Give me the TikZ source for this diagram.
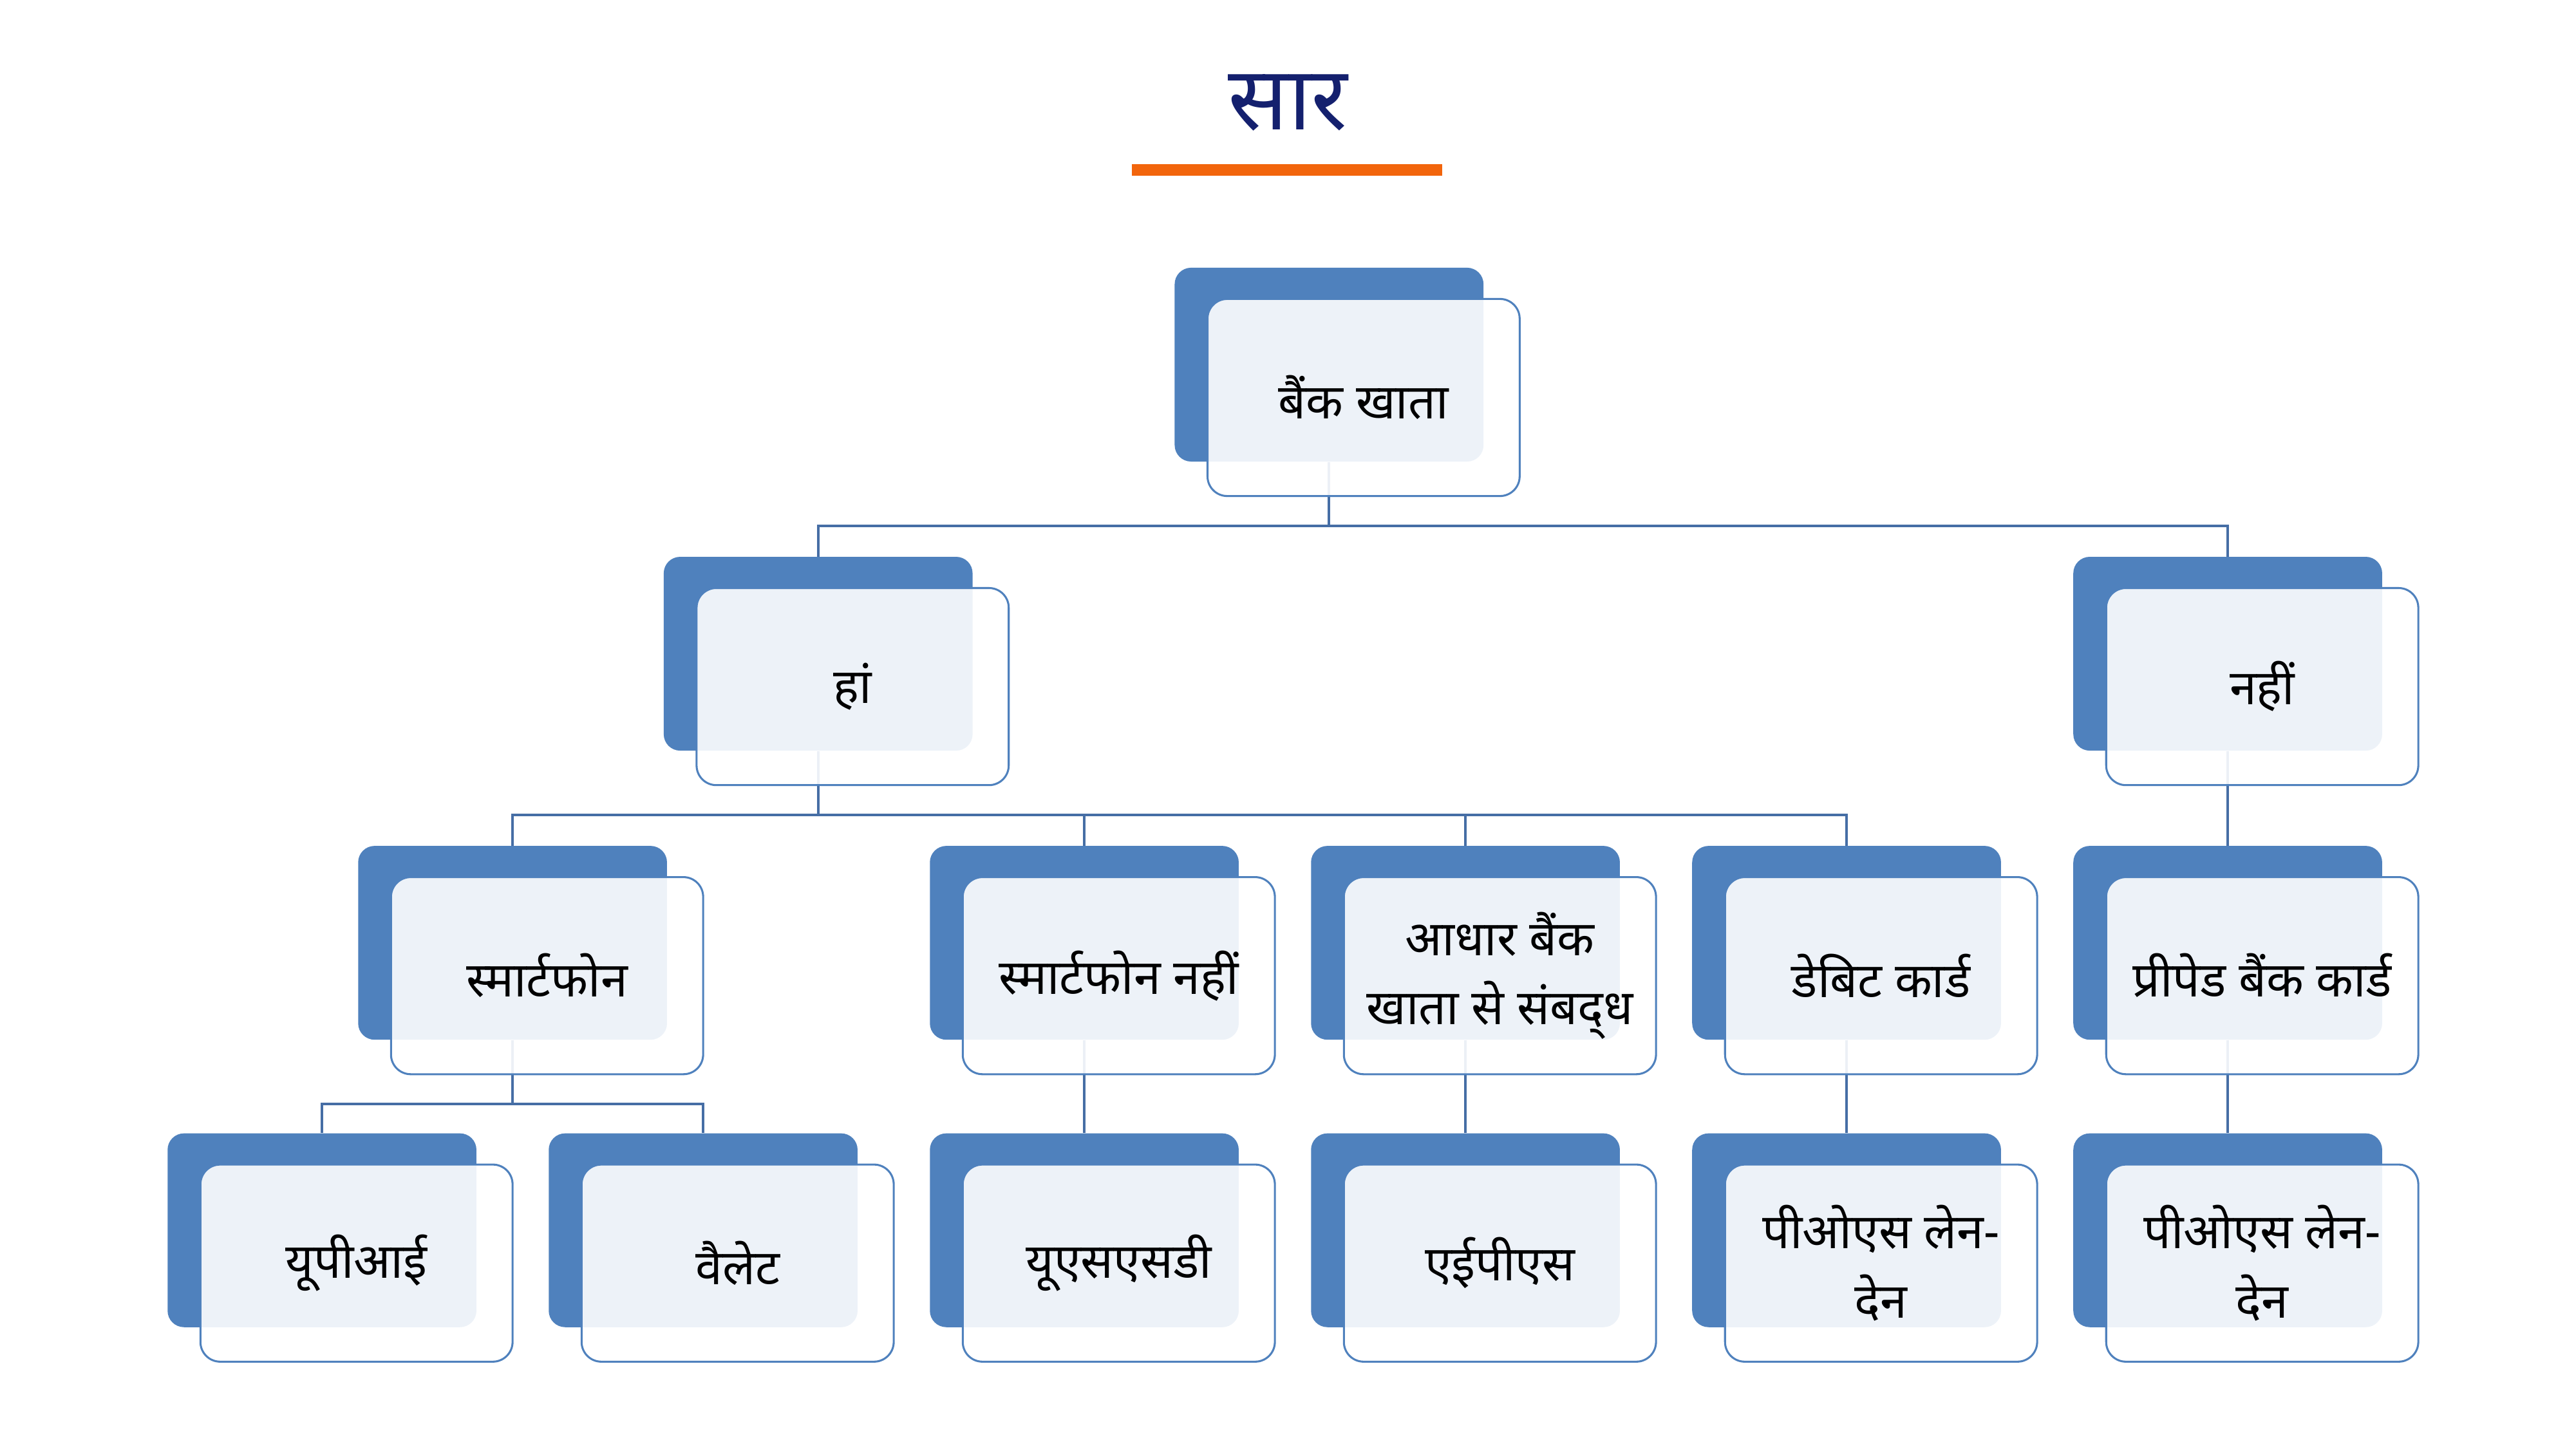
\documentclass[tikz,border=0pt]{standalone}
\usepackage{fontspec}
\newfontfamily\deva[Script=Devanagari]{Noto Sans}
\usetikzlibrary{calc}
\definecolor{backblue}{RGB}{79,129,189}
\definecolor{linkblue}{RGB}{70,110,165}
\definecolor{titleblue}{RGB}{20,32,110}
\definecolor{barorange}{RGB}{242,101,12}
\tikzset{
  backbox/.style={draw=none,fill=backblue,rounded corners=10pt,minimum width=188pt,minimum height=118pt,inner sep=0pt},
  frontbox/.style={draw=backblue,line width=1.2pt,fill=white,fill opacity=0.9,text opacity=1,rounded corners=12pt,minimum width=190pt,minimum height=120pt,inner sep=0pt,align=center,font=\deva\fontsize{29.5}{42}\selectfont},
  conn/.style={draw=linkblue,line width=1.5pt}
}
\begin{document}
\begin{tikzpicture}[x=1pt,y=-1pt]
\useasboundingbox (0,0) rectangle (1568,882);
% title
\node[font=\deva\fontsize{54}{60}\selectfont,text=titleblue,anchor=base] (title) at (784,79) {सार};
\fill[barorange] (689,100) rectangle (878,107);
% back boxes
\node[backbox] (b0) at (809,222) {};
\node[backbox] (b1) at (498,398) {};
\node[backbox] (b2) at (1356,398) {};
\node[backbox] (b3) at (312,574) {};
\node[backbox] (b4) at (660,574) {};
\node[backbox] (b5) at (892,574) {};
\node[backbox] (b6) at (1124,574) {};
\node[backbox] (b7) at (1356,574) {};
\node[backbox] (b8) at (196,749) {};
\node[backbox] (b9) at (428,749) {};
\node[backbox] (b10) at (660,749) {};
\node[backbox] (b11) at (892,749) {};
\node[backbox] (b12) at (1124,749) {};
\node[backbox] (b13) at (1356,749) {};
% connectors
\draw[conn] (b0.south) -- ++(0,39) coordinate (j0) -| (b1.north);
\draw[conn] (j0) -| (b2.north);
\draw[conn] (b1.south) -- ++(0,39) coordinate (j1) -| (b3.north);
\draw[conn] (j1) -| (b4.north);
\draw[conn] (j1) -| (b5.north);
\draw[conn] (j1) -| (b6.north);
\draw[conn] (b2.south) -- (b7.north);
\draw[conn] (b3.south) -- ++(0,39) coordinate (j3) -| (b8.north);
\draw[conn] (j3) -| (b9.north);
\draw[conn] (b4.south) -- (b10.north);
\draw[conn] (b5.south) -- (b11.north);
\draw[conn] (b6.south) -- (b12.north);
\draw[conn] (b7.south) -- (b13.north);
% front boxes
\node[frontbox] (f0) at ($(b0)+(21,20)$) {बैंक खाता};
\node[frontbox] (f1) at ($(b1)+(21,20)$) {हां};
\node[frontbox] (f2) at ($(b2)+(21,20)$) {नहीं};
\node[frontbox] (f3) at ($(b3)+(21,20)$) {स्मार्टफोन};
\node[frontbox] (f4) at ($(b4)+(21,20)$) {स्मार्टफोन नहीं};
\node[frontbox] (f5) at ($(b5)+(21,20)$) {आधार बैंक\\खाता से संबद्^^^^200cध};
\node[frontbox] (f6) at ($(b6)+(21,20)$) {डेबिट कार्ड};
\node[frontbox] (f7) at ($(b7)+(21,20)$) {प्रीपेड बैंक कार्ड};
\node[frontbox] (f8) at ($(b8)+(21,20)$) {यूपीआई};
\node[frontbox] (f9) at ($(b9)+(21,20)$) {वैलेट};
\node[frontbox] (f10) at ($(b10)+(21,20)$) {यूएसएसडी};
\node[frontbox] (f11) at ($(b11)+(21,20)$) {एईपीएस};
\node[frontbox] (f12) at ($(b12)+(21,20)$) {पीओएस लेन-\\देन};
\node[frontbox] (f13) at ($(b13)+(21,20)$) {पीओएस लेन-\\देन};
\end{tikzpicture}
\end{document}
